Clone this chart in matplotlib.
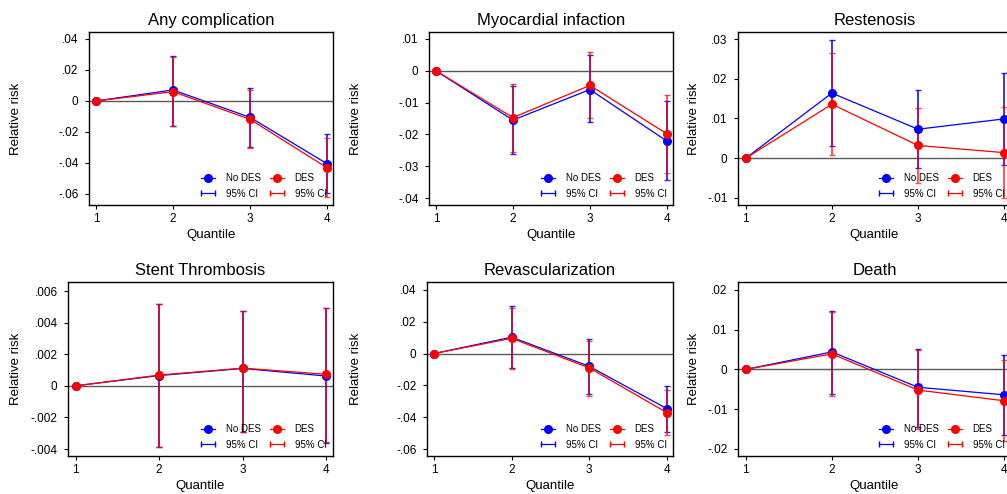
import numpy as np
import matplotlib
matplotlib.use("Agg")
import matplotlib.pyplot as plt
from matplotlib.lines import Line2D
from matplotlib.legend_handler import HandlerLine2D

plt.rcParams["font.family"] = ["Liberation Sans", "DejaVu Sans"]

quantiles = [1, 2, 3, 4]
ci_quantiles = [2, 3, 4]  # quantile 1 is the reference group, no CI

titles = ["Any complication", "Myocardial infaction", "Restenosis",
          "Stent Thrombosis", "Revascularization", "Death"]

# point estimates, No DES / DES
any_nodes = [0, 0.0071, -0.0105, -0.0404]
any_des = [0, 0.0060, -0.0118, -0.0430]
mi_nodes = [0, -0.0155, -0.0059, -0.0221]
mi_des = [0, -0.0147, -0.0046, -0.0198]
rest_nodes = [0, 0.0164, 0.0073, 0.0099]
rest_des = [0, 0.0136, 0.0032, 0.0014]
st_nodes = [0, 0.00065, 0.00110, 0.00062]
st_des = [0, 0.00068, 0.00112, 0.00073]
revasc_nodes = [0, 0.0103, -0.0080, -0.0346]
revasc_des = [0, 0.0096, -0.0090, -0.0371]
death_nodes = [0, 0.0044, -0.0045, -0.0064]
death_des = [0, 0.0039, -0.0052, -0.0079]

# 95% CI bounds for quantiles 2-4
any_nodes_lo = [-0.0159, -0.0299, -0.0596]
any_nodes_hi = [0.0292, 0.0082, -0.0213]
any_des_lo = [-0.0161, -0.0305, -0.0622]
any_des_hi = [0.0286, 0.0071, -0.0239]
mi_nodes_lo = [-0.0262, -0.0160, -0.0344]
mi_nodes_hi = [-0.0047, 0.0051, -0.0096]
mi_des_lo = [-0.0256, -0.0150, -0.0321]
mi_des_hi = [-0.0040, 0.0060, -0.0075]
rest_nodes_lo = [0.0031, -0.0024, -0.0016]
rest_nodes_hi = [0.0297, 0.0171, 0.0214]
rest_des_lo = [0.0007, -0.0063, -0.0100]
rest_des_hi = [0.0266, 0.0127, 0.0128]
st_nodes_lo = [-0.00385, -0.0029, -0.00362]
st_nodes_hi = [0.0052, 0.00472, 0.00490]
st_des_lo = [-0.00385, -0.0029, -0.00355]
st_des_hi = [0.0052, 0.00472, 0.00495]
revasc_nodes_lo = [-0.0092, -0.0254, -0.0490]
revasc_nodes_hi = [0.0296, 0.0090, -0.0203]
revasc_des_lo = [-0.0094, -0.0264, -0.0514]
revasc_des_hi = [0.0289, 0.0078, -0.0228]
death_nodes_lo = [-0.0062, -0.0144, -0.0164]
death_nodes_hi = [0.0147, 0.0052, 0.0037]
death_des_lo = [-0.0066, -0.0150, -0.0179]
death_des_hi = [0.0144, 0.0049, 0.0023]

# y ticks and their Stata-style labels
any_ticks = [0.04, 0.02, 0, -0.02, -0.04, -0.06]
any_ticklabels = [".04", ".02", "0", "-.02", "-.04", "-.06"]
mi_ticks = [0.01, 0, -0.01, -0.02, -0.03, -0.04]
mi_ticklabels = [".01", "0", "-.01", "-.02", "-.03", "-.04"]
rest_ticks = [0.03, 0.02, 0.01, 0, -0.01]
rest_ticklabels = [".03", ".02", ".01", "0", "-.01"]
st_ticks = [0.006, 0.004, 0.002, 0, -0.002, -0.004]
st_ticklabels = [".006", ".004", ".002", "0", "-.002", "-.004"]
revasc_ticks = [0.04, 0.02, 0, -0.02, -0.04, -0.06]
revasc_ticklabels = [".04", ".02", "0", "-.02", "-.04", "-.06"]
death_ticks = [0.02, 0.01, 0, -0.01, -0.02]
death_ticklabels = [".02", ".01", "0", "-.01", "-.02"]

panels = [
    (any_nodes, any_des, any_nodes_lo, any_nodes_hi, any_des_lo, any_des_hi,
     any_ticks, any_ticklabels, (-0.0671, 0.0445)),
    (mi_nodes, mi_des, mi_nodes_lo, mi_nodes_hi, mi_des_lo, mi_des_hi,
     mi_ticks, mi_ticklabels, (-0.0422, 0.0122)),
    (rest_nodes, rest_des, rest_nodes_lo, rest_nodes_hi, rest_des_lo,
     rest_des_hi, rest_ticks, rest_ticklabels, (-0.0118, 0.0318)),
    (st_nodes, st_des, st_nodes_lo, st_nodes_hi, st_des_lo, st_des_hi,
     st_ticks, st_ticklabels, (-0.00444, 0.00657)),
    (revasc_nodes, revasc_des, revasc_nodes_lo, revasc_nodes_hi,
     revasc_des_lo, revasc_des_hi, revasc_ticks, revasc_ticklabels,
     (-0.0644, 0.045)),
    (death_nodes, death_des, death_nodes_lo, death_nodes_hi, death_des_lo,
     death_des_hi, death_ticks, death_ticklabels, (-0.0218, 0.022)),
]

# axes boxes in pixels: left, right, top, bottom; y-label centre x
W, H = 1007, 494
boxes = [(89, 333, 32, 205), (429, 673, 32, 205), (738, 1011, 32, 205),
         (68, 333, 282, 456), (427, 673, 282, 456), (738, 1011, 282, 456)]
ylabel_x = [16, 356, 694, 16, 356, 694]

BLUE = "#0000ff"
RED = "#ff0000"

fig = plt.figure(figsize=(W / 100, H / 100), dpi=100)

for i, (nodes, des, n_lo, n_hi, d_lo, d_hi, ticks, ticklabels, ylim) in enumerate(panels):
    left, right, top, bottom = boxes[i]
    ax = fig.add_axes([left / W, 1 - bottom / H, (right - left) / W,
                       (bottom - top) / H])

    ax.axhline(0, color="0.35", lw=1.0, zorder=1)

    n_est = np.array(nodes[1:])
    d_est = np.array(des[1:])
    ax.errorbar(ci_quantiles, n_est,
                yerr=[n_est - np.array(n_lo), np.array(n_hi) - n_est],
                fmt="none", ecolor=BLUE, elinewidth=1.3, capsize=2,
                capthick=1.0, alpha=0.85, zorder=2)
    ax.errorbar(ci_quantiles, d_est,
                yerr=[d_est - np.array(d_lo), np.array(d_hi) - d_est],
                fmt="none", ecolor=RED, elinewidth=1.3, capsize=2,
                capthick=1.0, alpha=0.7, zorder=3)

    ax.plot(quantiles, nodes, color=BLUE, lw=0.9, marker="o", ms=5.5,
            zorder=4)
    ax.plot(quantiles, des, color=RED, lw=0.9, marker="o", ms=5.5, zorder=5)

    ax.set_xlim(0.91, 4.08)
    ax.set_ylim(*ylim)
    ax.set_xticks(quantiles)
    ax.set_yticks(ticks)
    ax.set_yticklabels(ticklabels)
    ax.tick_params(axis="both", direction="out", length=3, width=0.8,
                   labelsize=8.5, color="black")
    ax.tick_params(axis="y", pad=4.5)
    ax.tick_params(axis="x", pad=2.5)
    for sp in ax.spines.values():
        sp.set_linewidth(1.0)
        sp.set_color("black")

    ax.set_title(titles[i], fontsize=12, pad=5)
    ax.set_xlabel("Quantile", fontsize=9.5, va="center")
    ax.xaxis.set_label_coords(0.5, -(235 - 205) / (bottom - top))
    ax.set_ylabel("Relative risk", fontsize=9.5, va="center")
    ax.yaxis.set_label_coords((ylabel_x[i] - left) / (right - left), 0.5)

    # legend: point+line for estimates, capped bar for the CIs
    h_nodes = Line2D([], [], color=BLUE, lw=0.9, marker="o", ms=5.5)
    h_des = Line2D([], [], color=RED, lw=0.9, marker="o", ms=5.5)
    h_ci_nodes = Line2D([], [], color=BLUE, lw=0.9, marker="|", ms=5,
                        mew=1.0)
    h_ci_des = Line2D([], [], color=RED, lw=0.9, marker="|", ms=5, mew=1.0)
    ax.legend([h_nodes, h_ci_nodes, h_des, h_ci_des],
              ["No DES", "95% CI", "DES", "95% CI"],
              ncol=2, loc="lower right", frameon=False, fontsize=7,
              handlelength=1.4, handletextpad=1.1, columnspacing=1.0,
              labelspacing=0.55, borderpad=0.3, borderaxespad=0.35,
              handler_map={h_ci_nodes: HandlerLine2D(numpoints=2, marker_pad=0),
                           h_ci_des: HandlerLine2D(numpoints=2, marker_pad=0)})

fig.savefig("out.png", dpi=100)
